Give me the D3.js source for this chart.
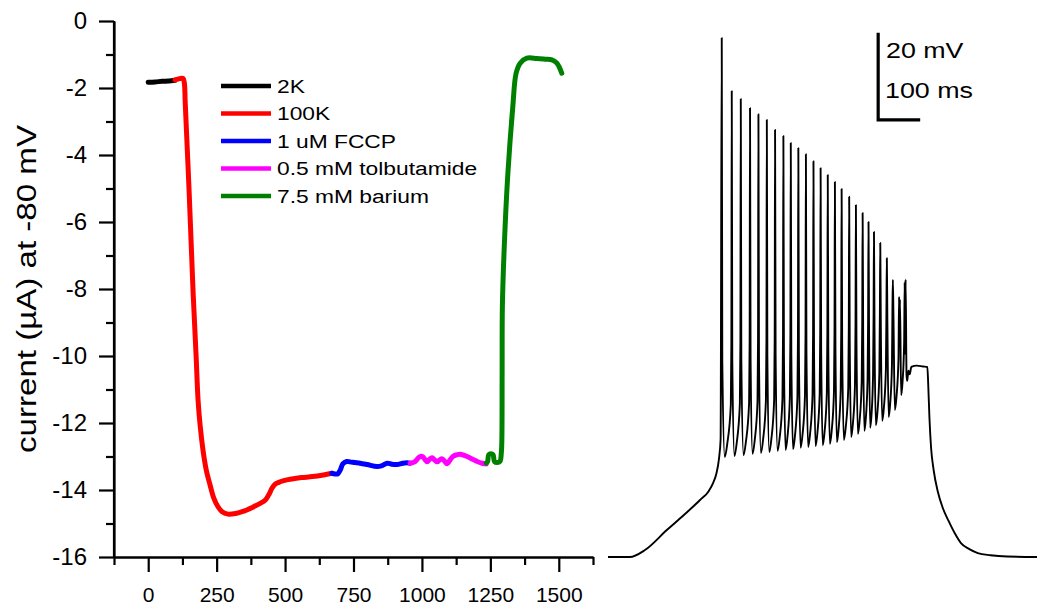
<!DOCTYPE html>
<html lang="en">
<head>
<meta charset="utf-8">
<title>current and spike train</title>
<script src="https://d3js.org/d3.v7.min.js"></script>
<style>
  body { margin: 0; background: #fff; }
  svg { display: block; font-family: "Liberation Sans", Arial, Helvetica, sans-serif; }
  .axis path, .axis line { stroke: #000; stroke-width: 2.2; }
  .axis text { fill: #000; }
</style>
</head>
<body>
<div id="chart"></div>
<script>
// ---- left panel: current at -80 mV vs time ----
const xTicks = [0, 250, 500, 750, 1000, 1250, 1500];
const xMinor = [-125, 125, 375, 625, 875, 1125, 1375, 1625];
const yTicks = [0, -2, -4, -6, -8, -10, -12, -14, -16];
const yMinor = [-1, -3, -5, -7, -9, -11, -13, -15];

const seriesNames = ["2K", "100K", "1 uM FCCP", "0.5 mM tolbutamide", "7.5 mM barium"];
const seriesColors = ["#000000", "#ff0000", "#0000ff", "#ff00ff", "#008000"];

const k2 = [[0,-1.83],[25,-1.82],[50,-1.8],[75,-1.79],[98,-1.77]];
const k100 = [[98,-1.76],[115,-1.72],[127,-1.71],[132,-1.85],[135,-2.4],[150,-5.2],[164,-8.1],[175,-10.0],
  [182,-11.3],[190,-12.1],[200,-12.8],[212,-13.4],[226,-13.85],[240,-14.25],[255,-14.5],[270,-14.65],
  [291,-14.72],[320,-14.7],[346,-14.64],[380,-14.52],[409,-14.4],[428,-14.3],[442,-14.12],[452,-13.95],
  [462,-13.84],[475,-13.78],[495,-13.72],[525,-13.67],[560,-13.63],[600,-13.6],[640,-13.55],[671,-13.5]];
const fccp = [[671,-13.5],[682,-13.52],[692,-13.52],[702,-13.4],[711,-13.22],[725,-13.15],[737,-13.16],
  [755,-13.18],[774,-13.2],[800,-13.24],[836,-13.3],[855,-13.27],[873,-13.2],[890,-13.23],[909,-13.24],
  [930,-13.2],[946,-13.19],[957,-13.2]];
const tolb = [[957,-13.2],[975,-13.15],[990,-13.02],[1002,-13.0],[1012,-13.1],[1019,-13.16],[1028,-13.08],
  [1037,-13.04],[1046,-13.1],[1056,-13.16],[1065,-13.1],[1074,-13.07],[1083,-13.14],[1092,-13.22],
  [1103,-13.1],[1114,-12.99],[1127,-12.95],[1140,-12.93],[1152,-12.96],[1165,-13.0],[1185,-13.08],
  [1202,-13.15],[1220,-13.2],[1235,-13.22]];
const barium = [[1235,-13.2],[1240,-13.15],[1244,-12.95],[1252,-12.92],[1260,-12.95],[1265,-13.15],
  [1275,-13.18],[1285,-13.15],[1290,-12.9],[1292,-12.5],[1293,-10.5],[1294,-8.5],[1302,-6.5],[1314,-4.55],
  [1332,-2.56],[1344,-1.56],[1359,-1.26],[1383,-1.11],[1420,-1.12],[1450,-1.14],[1475,-1.16],
  [1493,-1.26],[1511,-1.56]];
const seriesData = [k2, k100, fccp, tolb, barium];

// ---- right panel: membrane potential trace (ms, mV) ----
const preRamp = [[0,-70],[52,-70],[88,-68.4],[140,-63.8],[180,-60.4],[219,-56.9],[240,-54.8],[250,-53],
  [258,-50.8],[264,-47.5],[268,-43]];
const spikeT = [270.7, 294.5, 316, 338, 358, 378, 397.6, 417.4, 435, 453, 471, 489, 506, 523, 540, 556,
  574, 590, 606, 620, 633, 648, 663.6, 678, 693.6, 707];
const spikePeak = [49.3, 37.1, 35.3, 33.2, 31.8, 30.5, 28.2, 26.8, 25.2, 24.0, 22.6, 21.0, 19.4, 17.8,
  16.2, 14.6, 12.8, 10.9, 9.1, 7.0, 4.7, 2.2, -1.3, -6.3, -15.7, -23.3];
const spikeTrough = [-47.0, -46.8, -46.6, -46.3, -46.1, -45.9, -45.6, -45.4, -45.2, -44.9, -44.7, -44.5,
  -44.3, -44.0, -43.6, -43.1, -42.4, -41.7, -41.0, -40.3, -39.7, -38.7, -37.8, -36.2, -32.8, -28.2];
const postTrace = [[712,-29.5],[715,-27.2],[718,-28.0],[722,-26.3],[735,-26.0],[750,-26.2],[760,-26.3],
  [762,-30],[765,-38],[769,-45],[775,-50],[785,-55],[797,-58.8],[810,-61.6],[825,-64.5],[840,-66.8],
  [860,-68.2],[880,-69.1],[910,-69.6],[950,-69.9],[1021,-70]];
const scaleBarT = [643, 743];   // 100 ms
const scaleBarV = [30.5, 50.5]; // 20 mV

const W = 1037, H = 606;
const svg = d3.select("#chart").append("svg").attr("width", W).attr("height", H);

const x = d3.scaleLinear().domain([-125, 1625]).range([114, 593]);
const y = d3.scaleLinear().domain([-16, 0]).range([557, 21]);

// axes: minor then major ticks
svg.append("g").attr("class", "axis").attr("transform", "translate(0,557)")
  .call(d3.axisBottom(x).tickValues(xMinor).tickSize(8).tickSizeOuter(0).tickFormat(""));
svg.append("g").attr("class", "axis").attr("transform", "translate(114,0)")
  .call(d3.axisLeft(y).tickValues(yMinor).tickSize(8).tickSizeOuter(0).tickFormat(""));

const xAxis = svg.append("g").attr("class", "axis").attr("transform", "translate(0,557)")
  .call(d3.axisBottom(x).tickValues(xTicks).tickSize(15).tickSizeOuter(0).tickPadding(15)
    .tickFormat(d3.format("d")));
xAxis.selectAll("text").style("font-size", "21px");
const yAxis = svg.append("g").attr("class", "axis").attr("transform", "translate(114,0)")
  .call(d3.axisLeft(y).tickValues(yTicks).tickSize(15).tickSizeOuter(0).tickPadding(12)
    .tickFormat(d => String(d)));
yAxis.selectAll("text").style("font-size", "24px");
yAxis.select(".domain").attr("d", "M0," + y(-16) + "V" + y(0));

svg.append("text")
  .attr("transform", "translate(27,289) rotate(-90)")
  .attr("text-anchor", "middle")
  .attr("dy", "0.35em")
  .attr("textLength", 328)
  .attr("lengthAdjust", "spacingAndGlyphs")
  .style("font-size", "27px")
  .text("current (\u00b5A) at -80 mV");

const line = d3.line().x(d => x(d[0])).y(d => y(d[1])).curve(d3.curveCatmullRom.alpha(0.5));
seriesData.forEach(function(s, i) {
  svg.append("path").datum(s)
    .attr("d", line)
    .attr("fill", "none")
    .attr("stroke", seriesColors[i])
    .attr("stroke-width", 5)
    .attr("stroke-linecap", "round")
    .attr("stroke-linejoin", "round");
});

// legend
const leg = svg.append("g");
seriesNames.forEach(function(name, i) {
  var ly = 86 + i * 27.5;
  leg.append("line").attr("x1", 221).attr("x2", 271).attr("y1", ly).attr("y2", ly)
    .attr("stroke", seriesColors[i]).attr("stroke-width", 4.5);
  leg.append("text")
    .attr("transform", "translate(277," + ly + ") scale(1.2,1)")
    .attr("dy", "0.35em")
    .style("font-size", "19px")
    .text(name);
});

// right panel trace
const t = d3.scaleLinear().domain([0, 1021]).range([608, 1037]);
const v = d3.scaleLinear().domain([-70, 50]).range([557, 35]);

// each interspike interval is a rounded U: fast fall, trough, fast rise into the next spike
var pts = preRamp.slice();
spikeT.forEach(function(tp, i) {
  var vt = spikeTrough[i];
  pts.push([tp, spikePeak[i]]);
  pts.push([tp + 1.3, vt + 22]);
  if (i < spikeT.length - 1) {
    var nt = spikeT[i + 1], gap = nt - tp;
    pts.push([tp + gap * 0.3, vt]);
    pts.push([tp + gap * 0.55, vt + 3]);
    pts.push([nt - 2.2, vt + 12]);
    pts.push([nt - 0.9, vt + 26]);
  } else {
    pts.push([tp + 3.5, vt]);
  }
});
pts = pts.concat(postTrace);

svg.append("path").datum(pts)
  .attr("d", d3.line().x(d => t(d[0])).y(d => v(d[1])).curve(d3.curveMonotoneX))
  .attr("fill", "none")
  .attr("stroke", "#000")
  .attr("stroke-width", 1.9)
  .attr("stroke-linejoin", "round");

// scale bar
svg.append("path")
  .attr("d", "M" + t(scaleBarT[0]) + "," + v(scaleBarV[1]) + "V" + v(scaleBarV[0]) + "H" + t(scaleBarT[1]))
  .attr("fill", "none").attr("stroke", "#000").attr("stroke-width", 3.2);
svg.append("text")
  .attr("transform", "translate(886,58) scale(1.22,1)")
  .style("font-size", "22px")
  .text("20 mV");
svg.append("text")
  .attr("transform", "translate(885,98) scale(1.22,1)")
  .style("font-size", "22px")
  .text("100 ms");
</script>
</body>
</html>
